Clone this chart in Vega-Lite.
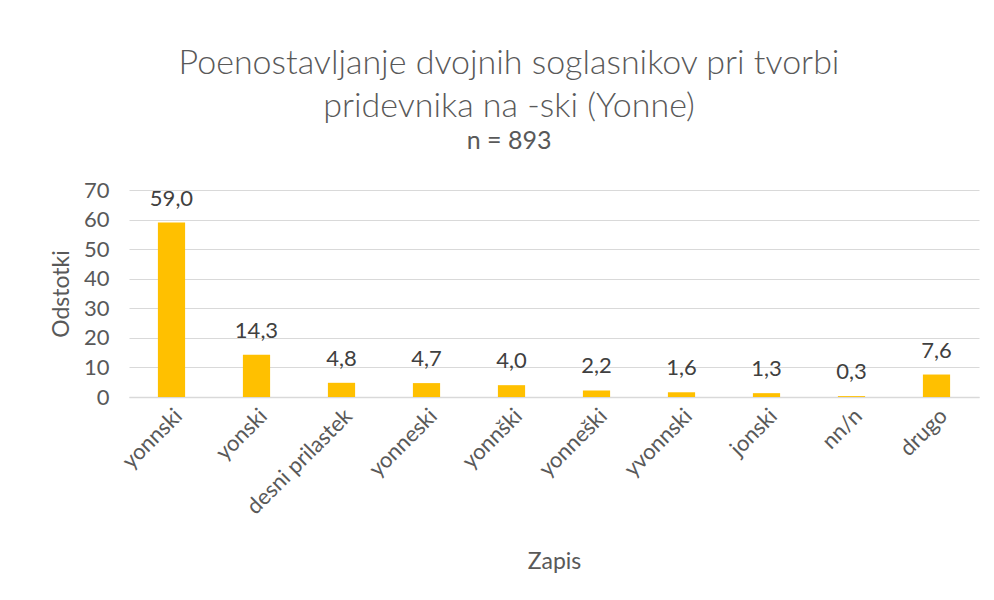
{
  "$schema": "https://vega.github.io/schema/vega-lite/v6.json",
  "width": 850,
  "height": 207,
  "autosize": {"type": "none"},
  "padding": {"left": 129, "top": 190, "right": 15, "bottom": 203},
  "background": "white",
  "config": {
    "font": "Lato",
    "view": {"stroke": null},
    "locale": {"number": {"decimal": ",", "thousands": ".", "grouping": [3], "currency": ["", " €"]}}
  },
  "title": {
    "text": ["Poenostavljanje dvojnih soglasnikov pri tvorbi", "pridevnika na -ski (Yonne)"],
    "subtitle": "n = 893",
    "fontSize": 34,
    "fontWeight": 300,
    "color": "#595959",
    "subtitleFontSize": 25,
    "subtitleFontWeight": "normal",
    "subtitleColor": "#595959",
    "subtitlePadding": 5,
    "lineHeight": 43,
    "anchor": "middle",
    "frame": "group",
    "offset": 25,
    "dx": -45
  },
  "data": {
    "values": [
      {"zapis": "yonnski", "odstotki": 59.0},
      {"zapis": "yonski", "odstotki": 14.3},
      {"zapis": "desni prilastek", "odstotki": 4.8},
      {"zapis": "yonneski", "odstotki": 4.7},
      {"zapis": "yonnški", "odstotki": 4.0},
      {"zapis": "yonneški", "odstotki": 2.2},
      {"zapis": "yvonnski", "odstotki": 1.6},
      {"zapis": "jonski", "odstotki": 1.3},
      {"zapis": "nn/n", "odstotki": 0.3},
      {"zapis": "drugo", "odstotki": 7.6}
    ]
  },
  "encoding": {
    "x": {
      "field": "zapis",
      "type": "nominal",
      "sort": null,
      "scale": {"paddingInner": 0.68, "paddingOuter": 0.34},
      "axis": {
        "title": "Zapis",
        "titleFontSize": 23,
        "titleFontWeight": "normal",
        "titleColor": "#595959",
        "titlePadding": 33,
        "labelAngle": -45,
        "labelFontSize": 22,
        "labelColor": "#595959",
        "labelPadding": 8,
        "ticks": false,
        "domainColor": "#d9d9d9",
        "domainWidth": 1.5
      }
    },
    "y": {
      "field": "odstotki",
      "type": "quantitative",
      "scale": {"domain": [0, 70]},
      "axis": {
        "title": "Odstotki",
        "titleFontSize": 23,
        "titleFontWeight": "normal",
        "titleColor": "#595959",
        "titlePadding": 10,
        "values": [0, 10, 20, 30, 40, 50, 60, 70],
        "labelFontSize": 22,
        "labelColor": "#595959",
        "labelPadding": 20,
        "ticks": false,
        "domain": false,
        "gridColor": "#d9d9d9",
        "gridWidth": 1.2
      }
    }
  },
  "layer": [
    {"mark": {"type": "bar", "color": "#FFC000"}},
    {
      "mark": {"type": "text", "dy": -12, "baseline": "bottom", "fontSize": 22, "color": "#404040"},
      "encoding": {"text": {"field": "odstotki", "type": "quantitative", "format": ".1f"}}
    }
  ]
}
